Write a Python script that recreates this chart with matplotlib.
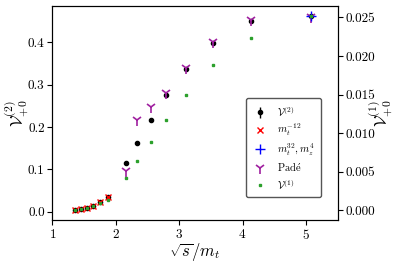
import numpy as np
import matplotlib
matplotlib.use('Agg')
import matplotlib.pyplot as plt

plt.rcParams['font.family'] = 'serif'
plt.rcParams['font.serif'] = ['cmr10']
plt.rcParams['mathtext.fontset'] = 'cm'
plt.rcParams['axes.formatter.use_mathtext'] = True

# sqrt(s)/m_t values
s_low = [1.358, 1.448, 1.543, 1.647, 1.748, 1.874]
s_high = [2.16, 2.34, 2.55, 2.80, 3.11, 3.53, 4.13, 5.08]

# V^(2) two-loop values (black, with errors)
v2_low = [0.004, 0.006, 0.0095, 0.014, 0.0236, 0.035]
v2_high = [0.116, 0.163, 0.217, 0.275, 0.336, 0.399, 0.450, 0.461]
v2_err_low = [0.001, 0.001, 0.001, 0.001, 0.001, 0.002]
v2_err_high = [0.004, 0.004, 0.004, 0.005, 0.005, 0.005, 0.005, 0.005]

# expansion in m_t^-12 (low energy)
mt12 = [0.004, 0.006, 0.0095, 0.014, 0.0236, 0.035]

# expansion m_t^32, m_z^4 (high energy)
s_hi_exp = [5.08]
hi_exp = [0.462]

# Pade approximants
pade = [0.097, 0.217, 0.248, 0.281, 0.339, 0.401, 0.453, 0.460]

# V^(1) one-loop values (right axis)
v1_low = [0.00004, 0.00017, 0.0003, 0.00056, 0.0009, 0.00133]
v1_high = [0.0042, 0.0064, 0.0089, 0.0117, 0.0150, 0.0188, 0.0223, 0.0252]

fig = plt.figure(figsize=(4.04, 2.62), dpi=100)
ax = fig.add_axes([0.1295, 0.160, 0.7065, 0.818])
ax2 = ax.twinx()

s_all = s_low + s_high
h_v2 = ax.errorbar(s_all, v2_low + v2_high, yerr=v2_err_low + v2_err_high,
                   fmt='o', color='black', ms=3, elinewidth=1.0, capsize=0,
                   label=r'$\mathcal{V}^{(2)}$', zorder=3)
h_mt, = ax.plot(s_low, mt12, 'x', color='red', ms=5, mew=1.0,
                label=r'$m_t^{-12}$', zorder=4)
h_hi, = ax.plot(s_hi_exp, hi_exp, '+', color='blue', ms=7, mew=1.0,
                label=r'$m_t^{32}, m_z^4$', zorder=5)
h_pade, = ax.plot(s_high, pade, '1', color='#a020a0', ms=8, mew=1.2,
                  label=r'Pad$\acute{\mathrm{e}}$', zorder=4)
h_v1, = ax2.plot(s_low + s_high, v1_low + v1_high, 's', color='#2ca02c',
                 ms=2, label=r'$\mathcal{V}^{(1)}$')

ax.set_xlim(1, 5.5)
ax.set_ylim(-0.0196, 0.486)
ax2.set_ylim(-0.00126, 0.0265)
ax.set_xticks([1, 2, 3, 4, 5])
ax.set_yticks([0.0, 0.1, 0.2, 0.3, 0.4])
ax2.set_yticks([0.0, 0.005, 0.010, 0.015, 0.020, 0.025])
ax.set_yticklabels(['0.0', '0.1', '0.2', '0.3', '0.4'])
ax2.set_yticklabels(['0.000', '0.005', '0.010', '0.015', '0.020', '0.025'])

ax.tick_params(labelsize=9.5, length=3.5, pad=2)
ax2.tick_params(labelsize=9.5, length=3.5, pad=2)

ax.set_xlabel(r'$\sqrt{s}/m_t$', fontsize=12)
ax.xaxis.set_label_coords(0.5, -0.098)
ax.set_ylabel(r'$\mathcal{V}^{(2)}_{+0}$', fontsize=12)
ax.yaxis.set_label_coords(-0.075, 0.5)
ax2.set_ylabel(r'$\mathcal{V}^{(1)}_{+0}$', fontsize=12)
ax2.yaxis.set_label_coords(1.1, 0.5)

leg = ax2.legend(handles=[h_v2, h_mt, h_hi, h_pade, h_v1], loc='lower right',
                 bbox_to_anchor=(0.807, 0.229), bbox_transform=fig.transFigure,
                 fontsize=7.5, frameon=True, fancybox=True, framealpha=1.0,
                 edgecolor='#555555', handlelength=1.6, labelspacing=0.35,
                 borderpad=0.6)

fig.savefig('out.png', dpi=100)
